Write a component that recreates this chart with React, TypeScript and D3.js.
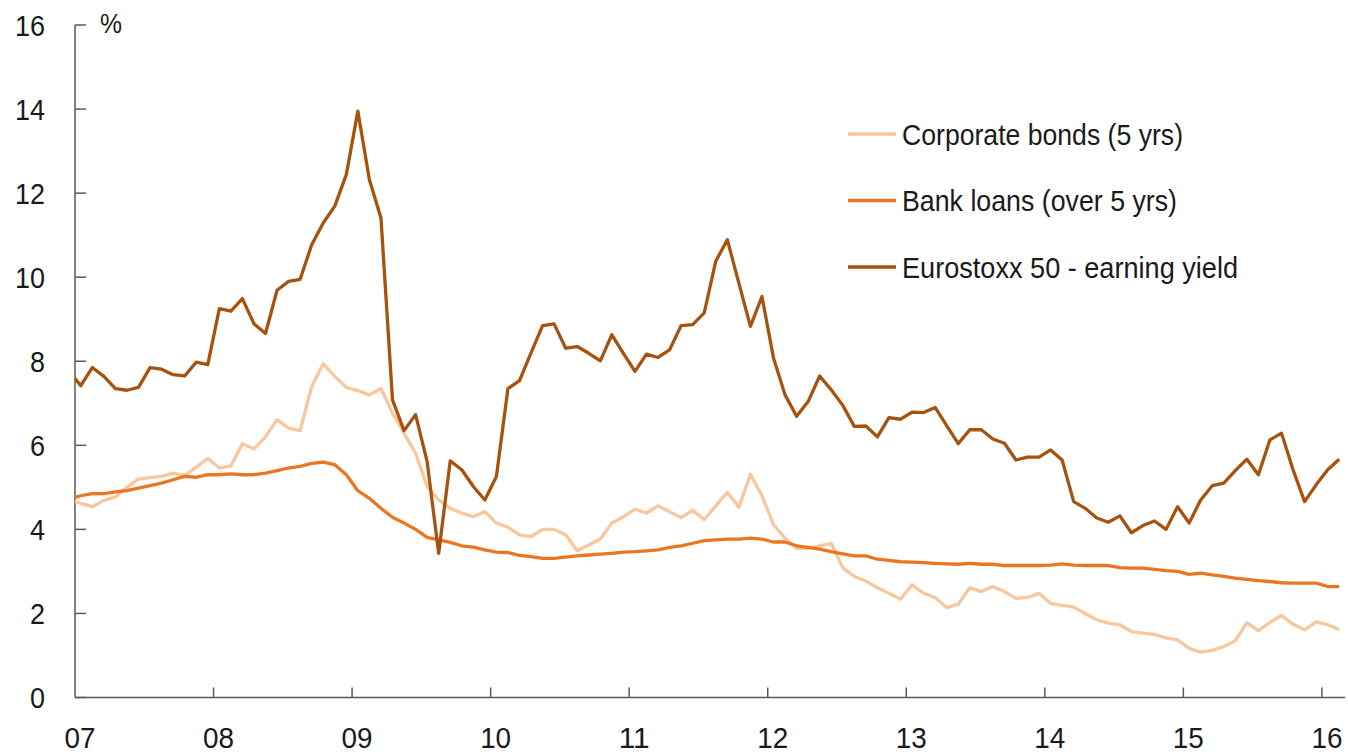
import React, { useEffect, useRef } from "react";
import * as d3 from "d3";

// monthly observations, Dec 2006 .. Feb 2016 (first point sits left of the axis and is clipped)
const firstMonth = -1; // months relative to Jan 2007
const yearLabels = ["07", "08", "09", "10", "11", "12", "13", "14", "15", "16"];
const yTicks = [0, 2, 4, 6, 8, 10, 12, 14, 16];

const seriesNames = ["Corporate bonds (5 yrs)", "Bank loans (over 5 yrs)", "Eurostoxx 50 - earning yield"];
const seriesColors = ["#F8C79E", "#EB7621", "#A5530F"];

const corporateBonds = [
  4.70, 4.62, 4.54, 4.69, 4.77, 5.00, 5.20, 5.23, 5.26, 5.34, 5.28, 5.48, 5.69,
  5.46, 5.51, 6.04, 5.91, 6.20, 6.61, 6.41, 6.35, 7.40, 7.94, 7.64, 7.38,
  7.30, 7.20, 7.35, 6.77, 6.29, 5.81, 5.02, 4.70, 4.50, 4.39, 4.30, 4.42,
  4.15, 4.05, 3.87, 3.83, 4.00, 4.00, 3.87, 3.49, 3.63, 3.77, 4.15, 4.30,
  4.48, 4.39, 4.56, 4.42, 4.28, 4.46, 4.23, 4.56, 4.88, 4.53, 5.31, 4.80,
  4.11, 3.79, 3.55, 3.55, 3.61, 3.67, 3.09, 2.88, 2.77, 2.61, 2.48, 2.34,
  2.68, 2.48, 2.38, 2.14, 2.22, 2.61, 2.52, 2.64, 2.52, 2.36, 2.38, 2.48,
  2.24, 2.19, 2.15, 2.00, 1.85, 1.77, 1.73, 1.57, 1.53, 1.50, 1.42, 1.37,
  1.17, 1.08, 1.12, 1.21, 1.35, 1.78, 1.59, 1.79, 1.95, 1.74, 1.61, 1.80,
  1.73, 1.62
];

const bankLoans = [
  4.72, 4.80, 4.85, 4.85, 4.89, 4.92, 4.98, 5.04, 5.10, 5.18, 5.26, 5.24, 5.30,
  5.30, 5.32, 5.30, 5.30, 5.34, 5.40, 5.46, 5.50, 5.57, 5.60, 5.54, 5.30,
  4.92, 4.74, 4.50, 4.29, 4.15, 4.00, 3.81, 3.75, 3.69, 3.61, 3.58, 3.51,
  3.46, 3.45, 3.38, 3.35, 3.31, 3.31, 3.34, 3.37, 3.39, 3.41, 3.43, 3.46,
  3.47, 3.49, 3.51, 3.57, 3.61, 3.67, 3.73, 3.75, 3.77, 3.77, 3.79, 3.77,
  3.70, 3.70, 3.61, 3.57, 3.53, 3.47, 3.42, 3.37, 3.37, 3.29, 3.26, 3.23,
  3.22, 3.21, 3.19, 3.18, 3.17, 3.19, 3.17, 3.17, 3.14, 3.14, 3.14, 3.14,
  3.15, 3.18, 3.15, 3.14, 3.14, 3.14, 3.09, 3.08, 3.08, 3.05, 3.02, 3.00,
  2.93, 2.96, 2.92, 2.88, 2.84, 2.81, 2.78, 2.76, 2.73, 2.72, 2.72, 2.72,
  2.64, 2.64
];

const eurostoxx = [
  7.75, 7.42, 7.85, 7.64, 7.35, 7.31, 7.38, 7.85, 7.81, 7.68, 7.65, 7.98, 7.92,
  9.25, 9.19, 9.49, 8.89, 8.66, 9.69, 9.90, 9.95, 10.77, 11.29, 11.69, 12.44,
  13.95, 12.32, 11.41, 7.08, 6.35, 6.73, 5.61, 3.43, 5.63, 5.42, 5.02, 4.70,
  5.26, 7.35, 7.54, 8.20, 8.85, 8.89, 8.31, 8.35, 8.19, 8.01, 8.63, 8.19,
  7.76, 8.17, 8.09, 8.27, 8.85, 8.87, 9.15, 10.38, 10.89, 9.86, 8.83, 9.54,
  8.08, 7.20, 6.69, 7.04, 7.65, 7.32, 6.95, 6.45, 6.46, 6.20, 6.66, 6.62,
  6.79, 6.78, 6.90, 6.47, 6.04, 6.37, 6.37, 6.15, 6.05, 5.65, 5.72, 5.72,
  5.89, 5.65, 4.66, 4.50, 4.27, 4.17, 4.32, 3.92, 4.09, 4.20, 4.00, 4.54,
  4.15, 4.70, 5.04, 5.10, 5.40, 5.67, 5.30, 6.13, 6.29, 5.42, 4.66, 5.06,
  5.42, 5.67
];

const legendWidths = [281, 275, 336];

export default function App() {
  const ref = useRef<SVGSVGElement | null>(null);

  useEffect(() => {
    const width = 1348, height = 752;
    const svg = d3.select(ref.current);
    svg.selectAll("*").remove();

    const left = 75, right = 1345, top = 25, bottom = 697.5;
    // x in months since Jan 2007, domain up to Mar 2016
    const x = d3.scaleLinear().domain([0, 110]).range([left, right]);
    const y = d3.scaleLinear().domain([0, 16]).range([bottom, top]);
    const font = "'Liberation Sans', Arial, sans-serif";
    const axisColor = "#5a5a5a";

    svg.append("defs").append("clipPath").attr("id", "plotClip")
      .append("rect").attr("x", left).attr("y", 0).attr("width", right - left).attr("height", height);

    // axes
    svg.append("line").attr("x1", left).attr("x2", left).attr("y1", y(16)).attr("y2", bottom)
      .attr("stroke", axisColor).attr("stroke-width", 1.5);
    svg.append("line").attr("x1", left).attr("x2", right).attr("y1", bottom).attr("y2", bottom)
      .attr("stroke", axisColor).attr("stroke-width", 1.5);

    const yg = svg.append("g");
    yTicks.forEach(t => {
      yg.append("line").attr("x1", left).attr("x2", left + 11).attr("y1", y(t)).attr("y2", y(t))
        .attr("stroke", axisColor).attr("stroke-width", 1.5);
      const lab = yg.append("text").text(t).attr("x", 45).attr("y", y(t) + 10.5)
        .attr("text-anchor", "end").attr("font-family", font).attr("font-size", 29).attr("fill", "#1a1a1a");
      lab.attr("textLength", String(t).length * 15).attr("lengthAdjust", "spacingAndGlyphs");
    });

    const xg = svg.append("g");
    yearLabels.forEach((lab, i) => {
      const xv = x(i * 12);
      if (i > 0) {
        xg.append("line").attr("x1", xv).attr("x2", xv).attr("y1", bottom).attr("y2", bottom - 10)
          .attr("stroke", axisColor).attr("stroke-width", 1.5);
      }
      xg.append("text").text(lab).attr("x", xv + 5).attr("y", 747.5)
        .attr("text-anchor", "middle").attr("font-family", font).attr("font-size", 29).attr("fill", "#1a1a1a")
        .attr("textLength", 31).attr("lengthAdjust", "spacingAndGlyphs");
    });

    svg.append("text").text("%").attr("x", 100).attr("y", 33)
      .attr("font-family", font).attr("font-size", 27).attr("fill", "#1a1a1a")
      .attr("textLength", 22).attr("lengthAdjust", "spacingAndGlyphs");

    // lines, positioned mid-month
    const line = d3.line<number>()
      .x((d, i) => x(firstMonth + i + 0.5))
      .y(d => y(d));

    const all = [corporateBonds, bankLoans, eurostoxx];
    const lg = svg.append("g").attr("clip-path", "url(#plotClip)");
    all.forEach((s, k) => {
      lg.append("path").attr("d", line(s)).attr("fill", "none")
        .attr("stroke", seriesColors[k]).attr("stroke-width", 3.3).attr("stroke-linejoin", "round");
    });

    // legend
    const leg = svg.append("g");
    seriesNames.forEach((name, k) => {
      const cy = 134 + k * 66.5;
      leg.append("line").attr("x1", 848).attr("x2", 896).attr("y1", cy).attr("y2", cy)
        .attr("stroke", seriesColors[k]).attr("stroke-width", 3.3);
      leg.append("text").text(name).attr("x", 902).attr("y", cy + 10.5)
        .attr("font-family", font).attr("font-size", 30).attr("fill", "#1a1a1a")
        .attr("textLength", legendWidths[k]).attr("lengthAdjust", "spacingAndGlyphs");
    });

    svg.attr("width", width).attr("height", height);
  }, []);

  return (
    <div style={{ position: "absolute", left: 0, top: 0, background: "#fff" }}>
      <svg ref={ref} width={1348} height={752} style={{ display: "block" }} />
    </div>
  );
}
